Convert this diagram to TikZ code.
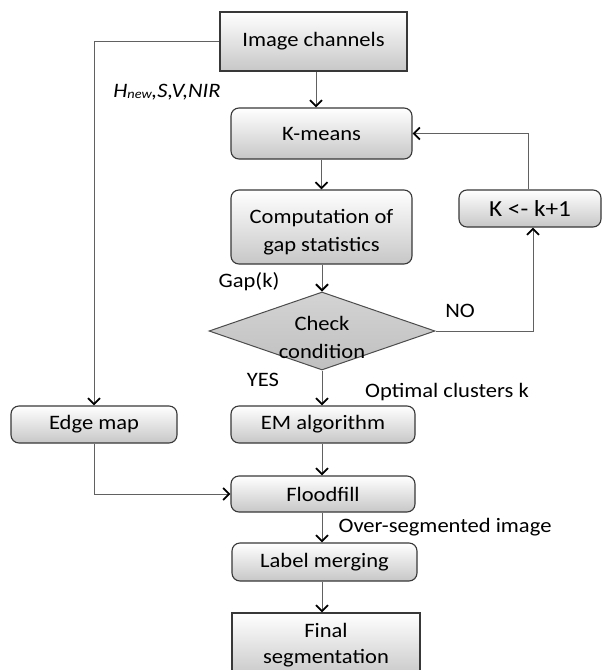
\documentclass[tikz,border=0pt]{standalone}
\usepackage{fontspec}
\setmainfont{Carlito}[FakeStretch=1.1]
\usetikzlibrary{shapes.geometric,arrows.meta}
\begin{document}
\begin{tikzpicture}[x=1pt,y=-1pt,
  txt/.style={font=\fontsize{20.5}{28}\selectfont, align=center, inner sep=0pt},
  box/.style={txt, draw=black!78, line width=1.1pt, top color=white, bottom color=black!22, anchor=center},
  rbox/.style={box, rounded corners=8pt},
  arr/.style={draw=black!62, line width=1pt, -{Straight Barb[length=6pt,width=12pt,line width=1.8pt,color=black]}},
  ln/.style={draw=black!62, line width=1pt}
]
\clip (0,0) rectangle (603,670);
\fill[white] (0,0) rectangle (603,670);

% nodes
\node[box, minimum width=187pt, minimum height=59pt] (img) at (313.5,41.5) {Image channels};
\node[rbox, minimum width=181pt, minimum height=51pt] (km) at (321.5,133.5) {K-means};
\node[rbox, minimum width=181pt, minimum height=74pt] (comp) at (321.5,227) {};
\node[txt] (comptxt) at ([yshift=-5pt]comp.center) {Computation of\\gap statistics};
\node[rbox, minimum width=142pt, minimum height=37pt, font=\fontsize{23}{27}\selectfont] (kb) at (530,208.5) {K <- k+1};
\node[diamond, draw=black!70, line width=1pt, top color=black!17, bottom color=black!25, minimum width=226pt, minimum height=78pt, inner sep=0pt, aspect=2.9] (dia) at (322,331) {};
\node[txt] (diatxt) at ([yshift=-6pt]dia.center) {Check\\condition};
\node[rbox, minimum width=166pt, minimum height=37pt] (edge) at (94,424.5) {Edge map};
\node[rbox, minimum width=184pt, minimum height=37pt] (em) at (323,424.5) {EM algorithm};
\node[rbox, minimum width=184pt, minimum height=36pt] (flood) at (323,494) {Floodfill};
\node[rbox, minimum width=185pt, minimum height=38pt] (lab) at (324.5,562) {Label merging};
\node[box, minimum width=188pt, minimum height=65pt] (fin) at (326,645.5) {};
\node[txt, font=\fontsize{20.5}{26}\selectfont] (fintxt) at (fin.center) {Final\\segmentation};

\coordinate (ax) at (322,0);

% connectors
\draw[arr] ([xshift=2.5pt]img.south) -- ([xshift=-5.5pt]km.north);
\draw[arr] (km.south) -- (comp.north);
\draw[arr] (ax |- comp.south) -- (dia.north);
\draw[arr] (dia.south) -- (ax |- em.north);
\draw[arr] (ax |- em.south) -- (ax |- flood.north);
\draw[arr] (ax |- flood.south) -- (ax |- lab.north);
\draw[arr] (ax |- lab.south) -- (ax |- fin.north);
\draw[arr] (img.west) -| (edge.north);
\draw[arr] (edge.south) |- (flood.west);
\draw[arr] ([xshift=-2pt]kb.north) |- (km.east);
\draw[arr] (dia.east) -| ([xshift=3pt]kb.south);

% labels
\node[txt] (lh) at (167,92) {\itshape H\raisebox{-1.5pt}{\fontsize{13}{13}\selectfont new},S,V,NIR};
\node[txt] (lgap) at (249,282) {Gap(k)};
\node[txt] (lno) at (460,311) {NO};
\node[txt] (lyes) at (263,380) {YES};
\node[txt] (lopt) at (447,392) {Optimal clusters k};
\node[txt] (lover) at (445,527) {Over-segmented image};
\end{tikzpicture}
\end{document}
